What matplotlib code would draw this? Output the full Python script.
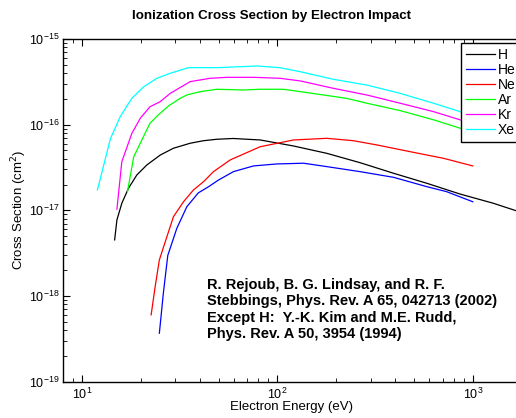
import numpy as np
import matplotlib.pyplot as plt

plt.rcParams['font.family'] = ['Liberation Sans', 'DejaVu Sans']

# electron energy (eV) and cross section (units of 1e-16 cm^2)
h_energy = [14.7, 15.1, 16.0, 17.3, 19.1, 21.5, 25.2, 29.4, 35.8, 41.9, 49.1, 59.4,
            81.7, 121, 179, 265, 393, 582, 861, 1274, 1666, 2000]
h_sigma = [0.0452, 0.0773, 0.121, 0.181, 0.259, 0.339, 0.443, 0.531, 0.607, 0.650,
           0.676, 0.690, 0.663, 0.564, 0.463, 0.360, 0.271, 0.207, 0.155, 0.121,
           0.099, 0.0865]

he_energy = [24.9, 26.1, 27.5, 30.6, 34.4, 39.4, 44.5, 50.0, 59.6, 75.5, 99.3, 136,
             179, 265, 393, 582, 736, 1000]
he_sigma = [0.00368, 0.0108, 0.0298, 0.0618, 0.110, 0.160, 0.189, 0.226, 0.283,
            0.330, 0.348, 0.355, 0.324, 0.283, 0.243, 0.189, 0.165, 0.126]

ne_energy = [22.6, 23.7, 24.9, 26.7, 29.4, 33.1, 37.2, 41.9, 47.1, 57.4, 81.7, 121,
             179, 245, 323, 478, 708, 1000]
ne_sigma = [0.00603, 0.0129, 0.0264, 0.0431, 0.0844, 0.126, 0.173, 0.216, 0.283,
            0.388, 0.553, 0.663, 0.693, 0.650, 0.580, 0.484, 0.405, 0.330]

ar_energy = [17.1, 18.4, 19.9, 22.3, 24.6, 27.7, 31.8, 34.4, 40.3, 49.1, 67.1, 81.7,
             107, 131, 226, 287, 425, 629, 861, 1000]
ar_sigma = [0.165, 0.42, 0.61, 1.04, 1.30, 1.65, 2.03, 2.22, 2.43, 2.59, 2.54, 2.59,
            2.59, 2.43, 2.03, 1.78, 1.46, 1.14, 0.91, 0.82]

kr_energy = [15.1, 16.0, 18.0, 19.9, 22.3, 25.1, 28.3, 35.8, 45.3, 55.2, 75.5, 103,
             131, 193, 287, 425, 629, 861, 1000]
kr_sigma = [0.103, 0.37, 0.79, 1.19, 1.62, 1.85, 2.32, 3.18, 3.48, 3.57, 3.57, 3.48,
            3.24, 2.66, 2.22, 1.78, 1.42, 1.14, 1.03]

xe_energy = [12.0, 14.0, 15.7, 18.0, 20.7, 24.2, 28.3, 35.1, 49.1, 78.6, 103, 131,
             193, 287, 425, 629, 861, 1000]
xe_sigma = [0.173, 0.69, 1.24, 2.03, 2.77, 3.48, 3.98, 4.63, 4.63, 4.84, 4.63, 4.15,
            3.39, 2.90, 2.32, 1.78, 1.42, 1.27]

gases = ['H', 'He', 'Ne', 'Ar', 'Kr', 'Xe']
energies = [h_energy, he_energy, ne_energy, ar_energy, kr_energy, xe_energy]
sigmas = [h_sigma, he_sigma, ne_sigma, ar_sigma, kr_sigma, xe_sigma]
colors = ['#000000', '#0000ff', '#ff0000', '#00ff00', '#ff00ff', '#00ffff']

W, H = 516, 418
fig = plt.figure(figsize=(W / 100, H / 100), dpi=100)
# axes runs past the right edge of the picture, as in the original
ax = fig.add_axes([63 / W, 1 - 381.7 / H, (531.6 - 63) / W, (381.7 - 39) / H])

for name, e, s, c in zip(gases, energies, sigmas, colors):
    ax.plot(e, np.array(s) * 1e-16, color=c, lw=0.9, label=name)

ax.set_xscale('log')
ax.set_yscale('log')
ax.set_xlim(8, 2000)
ax.set_ylim(1e-19, 1e-15)
ax.tick_params(which='both', direction='in', top=True, right=True, labelsize=9)
ax.tick_params(axis='y', pad=2.5)
ax.tick_params(which='major', length=5, width=0.8)
ax.tick_params(which='minor', length=3, width=0.6)
for sp in ax.spines.values():
    sp.set_linewidth(1.0)

ax.set_xlabel('Electron Energy (eV)', fontsize=9.5)
ax.xaxis.set_label_coords((292 - 63) / 468.6, (381.7 - 401) / 342.7)
ax.set_ylabel('Cross Section (cm$^2$)', fontsize=9.5)
ax.yaxis.set_label_coords((29 - 63) / 468.6, 0.5)

fig.text(271 / W, 1 - 16 / H, 'Ionization Cross Section by Electron Impact',
         ha='center', va='center', fontsize=9.6, fontweight='bold')

ax.text(206.7 / W, 1 - 278 / H,
        'R. Rejoub, B. G. Lindsay, and R. F.\n'
        'Stebbings, Phys. Rev. A 65, 042713 (2002)\n'
        'Except H:  Y.-K. Kim and M.E. Rudd,\n'
        'Phys. Rev. A 50, 3954 (1994)',
        transform=fig.transFigure, ha='left', va='top', fontsize=10.5,
        fontweight='bold', linespacing=1.22)

leg = ax.legend(loc='upper left', bbox_to_anchor=(460.7 / W, 1 - 42.7 / H),
                bbox_transform=fig.transFigure, fontsize=10, fancybox=False,
                framealpha=1, edgecolor='black', handlelength=2.1,
                handletextpad=0.2, borderpad=0.35, labelspacing=0.08,
                borderaxespad=0)
leg.get_frame().set_linewidth(1.0)

fig.savefig('out.png', dpi=100)
